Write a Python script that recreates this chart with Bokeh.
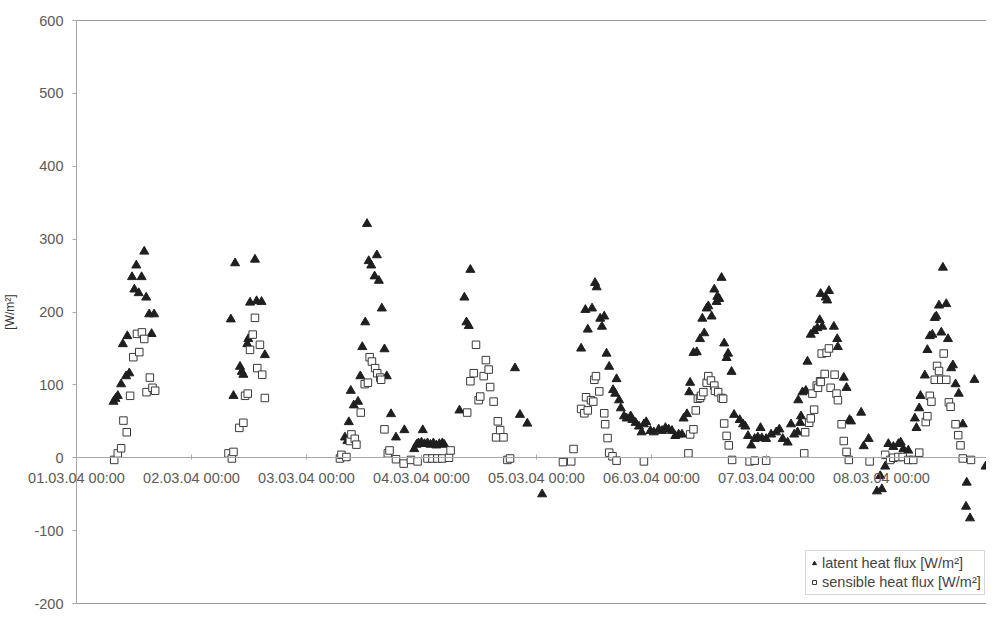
from bokeh.plotting import figure
from bokeh.models import FixedTicker, Range1d, Legend
from bokeh.embed import file_html
from bokeh.resources import INLINE

# time in days since 01.03.04 00:00
latent_day = [
    0.322, 0.339, 0.359, 0.388, 0.403, 0.431, 0.442, 0.459, 0.483, 0.503, 0.520, 0.541, 0.566, 0.589, 0.606, 0.632, 0.653, 0.675,
    1.342, 1.365, 1.379, 1.422, 1.437, 1.451, 1.485, 1.494, 1.509, 1.552, 1.566, 1.609, 1.638,
    2.334, 2.356, 2.368, 2.385, 2.411, 2.448, 2.468, 2.485, 2.511, 2.526, 2.541, 2.563, 2.592, 2.612, 2.629, 2.655, 2.678, 2.698,
    2.735, 2.778, 2.851, 2.937, 2.957, 2.974, 3.000, 3.011, 3.026, 3.052, 3.078, 3.103, 3.129, 3.155, 3.181, 3.198,
    3.330, 3.373, 3.391, 3.411, 3.425, 3.813, 3.856, 3.920, 4.049,
    4.388, 4.425, 4.446, 4.483, 4.509, 4.523, 4.554, 4.569, 4.589, 4.609, 4.632, 4.666, 4.684, 4.696, 4.718, 4.733, 4.761, 4.784,
    4.819, 4.834, 4.862, 4.891, 4.914, 4.934, 4.954, 4.991, 5.020, 5.063, 5.092, 5.121, 5.149, 5.178, 5.207, 5.236, 5.265, 5.279,
    5.308, 5.328, 5.336, 5.365, 5.394, 5.422, 5.442, 5.459, 5.480, 5.494, 5.523, 5.546, 5.566, 5.572, 5.589, 5.609, 5.632, 5.653,
    5.666, 5.696, 5.718, 5.767, 5.796, 5.816, 5.839, 5.868, 5.897, 5.925, 5.948, 5.959, 5.997, 6.040, 6.084, 6.112, 6.141, 6.184,
    6.213, 6.241, 6.270, 6.276, 6.293, 6.300, 6.313, 6.342, 6.356, 6.385, 6.414, 6.442, 6.463, 6.471, 6.485, 6.515, 6.528, 6.543,
    6.586, 6.615, 6.620, 6.672, 6.696, 6.722, 6.735, 6.823, 6.845, 6.888, 6.960, 6.989, 7.003, 7.032, 7.060, 7.075, 7.103, 7.147,
    7.167, 7.190, 7.233, 7.290, 7.304, 7.328, 7.339, 7.377, 7.399, 7.420, 7.442, 7.463, 7.477, 7.500, 7.520, 7.534, 7.563, 7.578,
    7.606, 7.621, 7.644, 7.672, 7.707, 7.735, 7.741, 7.770, 7.808, 7.905,
]
latent_wm2 = [
    77, 81, 85, 101, 156, 112, 167, 116, 248, 231, 264, 226, 248, 283, 220, 197, 170, 197,
    190, 85, 267, 125, 118, 114, 156, 163, 213, 272, 215, 214, 141,
    28, 23, 49, 92, 72, 77, 112, 152, 186, 321, 270, 264, 249, 278, 243, 205, 149, 112,
    60, 28, 38, 12, 18, 20, 21, 38, 19, 20, 18, 20, 17, 19, 20, 18,
    65, 220, 186, 181, 258, 123, 59, 47, -50,
    150, 203, 176, 205, 240, 234, 191, 180, 194, 143, 125, 93, 88, 108, 79, 68, 57, 54,
    57, 52, 48, 43, 35, 46, 49, 37, 35, 39, 37, 41, 39, 37, 30, 32, 32, 54,
    60, 90, 103, 144, 145, 163, 191, 171, 205, 208, 194, 231, 214, 221, 218, 247, 157, 137,
    143, 118, 59, 52, 46, 43, 30, 17, 26, 28, 41, 27, 26, 32, 35, 39, 26, 21,
    46, 32, 35, 79, 48, 57, 90, 92, 132, 169, 174, 178, 189, 225, 180, 220, 216, 229,
    180, 163, 152, 110, 96, 52, 50, 62, 16, 26, -46, -25, -43, -12, 19, -3, 15, 19,
    21, 12, 10, 54, 41, 68, 85, 113, 148, 167, 169, 192, 194, 209, 172, 261, 211, 163,
    123, 127, 101, 88, 46, -67, -34, -83, 107, -12,
]

sensible_day = [
    0.328, 0.359, 0.388, 0.408, 0.437, 0.466, 0.494, 0.526, 0.546, 0.569, 0.589, 0.609, 0.638, 0.661, 0.684,
    1.322, 1.351, 1.365, 1.416, 1.451, 1.466, 1.489, 1.509, 1.532, 1.552, 1.572, 1.595, 1.615, 1.638,
    2.291, 2.304, 2.347, 2.377, 2.391, 2.420, 2.434, 2.472, 2.506, 2.534, 2.549, 2.569, 2.597, 2.615, 2.641, 2.649,
    2.678, 2.707, 2.722, 2.778, 2.845, 2.908, 2.966, 3.052, 3.095, 3.138, 3.181, 3.239, 3.253,
    3.397, 3.425, 3.454, 3.474, 3.497, 3.511, 3.541, 3.560, 3.584, 3.597, 3.627, 3.649, 3.664, 3.684, 3.713, 3.747, 3.770,
    4.230, 4.302, 4.322,
    4.388, 4.416, 4.431, 4.446, 4.474, 4.494, 4.503, 4.517, 4.546, 4.589, 4.597, 4.618, 4.632, 4.661, 4.696, 4.934,
    5.321, 5.336, 5.365, 5.385, 5.403, 5.422, 5.431, 5.451, 5.480, 5.494, 5.517, 5.546, 5.552, 5.580, 5.609, 5.623,
    5.632, 5.653, 5.672, 5.701, 5.853, 5.897, 5.997,
    6.328, 6.336, 6.371, 6.385, 6.399, 6.414, 6.437, 6.448, 6.466, 6.471, 6.480, 6.506, 6.523, 6.543, 6.558, 6.592,
    6.609, 6.621, 6.653, 6.672, 6.696, 6.716, 6.897,
    7.032, 7.075, 7.103, 7.147, 7.184, 7.233, 7.276, 7.328, 7.385, 7.399, 7.420, 7.434, 7.463, 7.483, 7.500, 7.520,
    7.541, 7.563, 7.586, 7.601, 7.644, 7.667, 7.687, 7.707, 7.778,
]
sensible_wm2 = [
    -3, 6, 13, 51, 35, 85, 138, 170, 145, 172, 163, 90, 110, 96, 92,
    6, -1, 8, 41, 48, 85, 88, 148, 169, 192, 123, 155, 114, 82,
    -1, 4, 1, 23, 32, 26, 18, 62, 101, 103, 138, 132, 123, 116, 110, 107,
    39, 6, 10, -2, -8, -3, -5, -1, -1, -1, -1, 0, 10,
    62, 105, 116, 155, 79, 84, 112, 134, 121, 97, 77, 28, 50, 38, 28, -3, -1,
    -6, -5, 12,
    67, 61, 83, 65, 79, 77, 107, 112, 91, 61, 46, 27, 7, 2, -4, -5,
    6, 32, 39, 65, 81, 82, 85, 90, 103, 112, 106, 99, 92, 90, 82, 81,
    47, 30, 17, -3, -5, -4, -4,
    6, 35, 48, 54, 88, 66, 99, 96, 105, 104, 143, 115, 144, 150, 96, 114,
    88, 79, 46, 23, 8, -3, -5,
    4, -3, 0, 1, 1, -3, -3, 7, 49, 57, 85, 77, 107, 126, 119, 107,
    143, 107, 76, 70, 46, 31, 17, -1, -3,
]

x_tick_days = [0, 1, 2, 3, 4, 5, 6, 7, 8]
x_tick_labels = ["01.03.04 00:00", "02.03.04 00:00", "03.03.04 00:00", "04.03.04 00:00",
                 "05.03.04 00:00", "06.03.04 00:00", "07.03.04 00:00", "08.03.04 00:00",
                 "09.03.04 00:00"]
y_ticks = [-200, -100, 0, 100, 200, 300, 400, 500, 600]
y_tick_labels = ["-200", "-100", "0", "100", "200", "300", "400", "500", "600"]

# plot area limits (days / W m-2)
X_MIN, X_MAX = 0, 7.913
Y_MIN, Y_MAX = -200, 600

FONT = "Liberation Sans"
TICK_COLOR = "#5a5a5a"
TICK_SIZE = "14.5px"
LINE = "#a8a8a8"

W, H = 986, 611
PX_DAY = 115.0
LEFT_PX = 76
TOP_PX, BOTTOM_PX = 20, 603
px_unit = (BOTTOM_PX - TOP_PX) / (Y_MAX - Y_MIN)

p = figure(width=W, height=H, output_backend="svg", toolbar_location=None,
           x_range=Range1d(X_MIN - LEFT_PX / PX_DAY, X_MIN + (W - LEFT_PX) / PX_DAY),
           y_range=Range1d(Y_MIN - (H - BOTTOM_PX) / px_unit, Y_MAX + TOP_PX / px_unit),
           min_border_left=0, min_border_right=0, min_border_top=0, min_border_bottom=0)
p.grid.visible = False
p.outline_line_color = None
p.background_fill_color = "white"
p.border_fill_color = "white"

# plot-area border lines (top and bottom)
p.segment(x0=[X_MIN, X_MIN], y0=[Y_MAX, Y_MIN], x1=[X_MAX, X_MAX], y1=[Y_MAX, Y_MIN],
          line_color="#9a9a9a", line_width=1)

lat = p.scatter(latent_day, latent_wm2, marker="triangle", size=9,
                fill_color="#1f1f1f", line_color="#1f1f1f")
sen = p.scatter(sensible_day, sensible_wm2, marker="square", size=7.5,
                fill_color="white", line_color="#3a3a3a", line_width=1)

xa = p.xaxis[0]
xa.ticker = FixedTicker(ticks=x_tick_days)
xa.major_label_overrides = {d: lab for d, lab in zip(x_tick_days, x_tick_labels)}
xa.fixed_location = 0
xa.bounds = (X_MIN, X_MAX)
xa.axis_line_color = LINE
xa.major_tick_line_color = LINE
xa.major_tick_in = 3
xa.major_tick_out = 2
xa.minor_tick_line_color = None
xa.major_label_standoff = 10
xa.major_label_text_font = FONT
xa.major_label_text_font_size = TICK_SIZE
xa.major_label_text_color = TICK_COLOR

ya = p.yaxis[0]
ya.ticker = FixedTicker(ticks=y_ticks)
ya.major_label_overrides = {v: lab for v, lab in zip(y_ticks, y_tick_labels)}
ya.fixed_location = X_MIN
ya.bounds = (Y_MIN, Y_MAX)
ya.axis_line_color = LINE
ya.major_tick_line_color = LINE
ya.major_tick_in = 0
ya.major_tick_out = 4
ya.minor_tick_line_color = None
ya.major_label_standoff = 9
ya.major_label_text_font = FONT
ya.major_label_text_font_size = TICK_SIZE
ya.major_label_text_color = TICK_COLOR
ya.axis_label = "[W/m²]"
ya.axis_label_text_font = FONT
ya.axis_label_text_font_size = "12px"
ya.axis_label_text_font_style = "normal"
ya.axis_label_text_color = "#333333"
ya.axis_label_standoff = 14

legend = Legend(items=[("latent heat flux [W/m²]", [lat]),
                       ("sensible heat flux [W/m²]", [sen])],
                location=(805, 16))
legend.label_text_font = FONT
legend.label_text_font_size = "14.5px"
legend.label_text_color = "#444444"
legend.border_line_color = "#b0b0b0"
legend.background_fill_color = "white"
legend.background_fill_alpha = 1.0
legend.padding = 3
legend.spacing = 1
legend.glyph_width = 10
legend.glyph_height = 18
legend.label_height = 18
legend.label_standoff = 3
legend.margin = 0
p.add_layout(legend)

open("out.html", "w").write(file_html(p, INLINE))
